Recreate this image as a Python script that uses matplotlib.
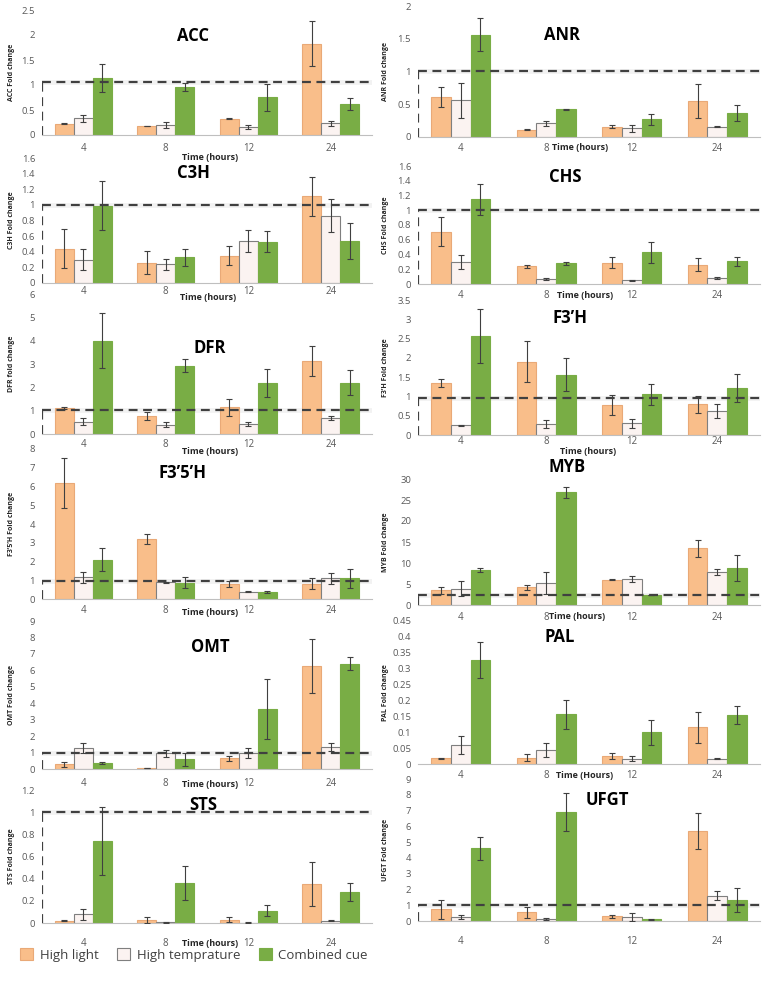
import numpy as np
import matplotlib.pyplot as plt

plt.rcParams['font.family'] = ['Open Sans', 'DejaVu Sans']

times = ['4', '8', '12', '24']
series_names = ['High light', 'High temprature', 'Combined cue']

# mean values, rows = High light, High temprature, Combined cue
acc_mean = [[0.22, 0.18, 0.32, 1.82], [0.33, 0.19, 0.15, 0.23], [1.13, 0.95, 0.75, 0.62]]
acc_err = [[0.01, 0.005, 0.01, 0.45], [0.07, 0.06, 0.04, 0.05], [0.28, 0.08, 0.27, 0.12]]
anr_mean = [[0.61, 0.11, 0.16, 0.55], [0.56, 0.21, 0.13, 0.16], [1.56, 0.42, 0.27, 0.37]]
anr_err = [[0.15, 0.01, 0.02, 0.26], [0.27, 0.04, 0.06, 0.01], [0.25, 0.01, 0.08, 0.12]]
c3h_mean = [[0.44, 0.26, 0.35, 1.11], [0.30, 0.24, 0.54, 0.86], [0.99, 0.33, 0.53, 0.54]]
c3h_err = [[0.25, 0.15, 0.12, 0.25], [0.13, 0.07, 0.14, 0.21], [0.31, 0.11, 0.13, 0.23]]
chs_mean = [[0.71, 0.24, 0.29, 0.26], [0.30, 0.07, 0.05, 0.08], [1.15, 0.28, 0.43, 0.31]]
chs_err = [[0.20, 0.02, 0.07, 0.09], [0.09, 0.01, 0.01, 0.01], [0.21, 0.02, 0.14, 0.06]]
dfr_mean = [[1.12, 0.78, 1.15, 3.13], [0.52, 0.40, 0.43, 0.68], [4.0, 2.93, 2.18, 2.2]]
dfr_err = [[0.05, 0.17, 0.37, 0.65], [0.15, 0.12, 0.10, 0.10], [1.17, 0.27, 0.60, 0.53]]
f3h_mean = [[1.35, 1.90, 0.78, 0.80], [0.25, 0.29, 0.30, 0.62], [2.56, 1.56, 1.05, 1.21]]
f3h_err = [[0.11, 0.53, 0.25, 0.22], [0.01, 0.10, 0.11, 0.18], [0.70, 0.43, 0.28, 0.36]]
f35h_mean = [[6.2, 3.2, 0.8, 0.82], [1.15, 0.9, 0.38, 1.1], [2.1, 0.88, 0.37, 1.1]]
f35h_err = [[1.33, 0.25, 0.15, 0.30], [0.28, 0.02, 0.03, 0.30], [0.60, 0.30, 0.07, 0.52]]
myb_mean = [[3.5, 4.2, 6.0, 13.5], [3.9, 5.3, 6.2, 7.9], [8.3, 26.8, 2.4, 8.8]]
myb_err = [[0.9, 0.6, 0.1, 2.0], [1.7, 2.6, 0.8, 0.7], [0.5, 1.3, 0.05, 3.1]]
omt_mean = [[0.3, 0.05, 0.65, 6.25], [1.3, 0.95, 0.95, 1.35], [0.35, 0.6, 3.65, 6.4]]
omt_err = [[0.15, 0.01, 0.15, 1.65], [0.3, 0.2, 0.3, 0.25], [0.05, 0.4, 1.8, 0.4]]
pal_mean = [[0.018, 0.02, 0.025, 0.115], [0.06, 0.043, 0.017, 0.017], [0.327, 0.156, 0.10, 0.153]]
pal_err = [[0.002, 0.01, 0.01, 0.048], [0.027, 0.022, 0.007, 0.001], [0.057, 0.045, 0.04, 0.028]]
sts_mean = [[0.02, 0.025, 0.03, 0.35], [0.08, 0.005, 0.003, 0.02], [0.74, 0.36, 0.11, 0.28]]
sts_err = [[0.005, 0.025, 0.02, 0.20], [0.05, 0.003, 0.002, 0.003], [0.31, 0.15, 0.05, 0.08]]
ufgt_mean = [[0.75, 0.55, 0.3, 5.7], [0.25, 0.12, 0.25, 1.6], [4.6, 6.9, 0.1, 1.35]]
ufgt_err = [[0.6, 0.35, 0.1, 1.15], [0.1, 0.05, 0.25, 0.3], [0.75, 1.2, 0.03, 0.75]]

genes = ['ACC', 'ANR', 'C3H', 'CHS', 'DFR', 'F3’H', 'F3’5’H', 'MYB', 'OMT', 'PAL', 'STS', 'UFGT']
means = [acc_mean, anr_mean, c3h_mean, chs_mean, dfr_mean, f3h_mean,
         f35h_mean, myb_mean, omt_mean, pal_mean, sts_mean, ufgt_mean]
errs = [acc_err, anr_err, c3h_err, chs_err, dfr_err, f3h_err,
        f35h_err, myb_err, omt_err, pal_err, sts_err, ufgt_err]
ylabels = ['ACC Fold change', 'ANR Fold change', 'C3H Fold change', 'CHS Fold change',
           'DFR fold change', 'F3’H Fold change', 'F3’5’H Fold change', 'MYB Fold change',
           'OMT Fold change', 'PAL Fold change', 'STS Fold change', 'UFGT Fold change']
xlabels = ['Time (hours)'] * 9 + ['Time (Hours)', 'Time (hours)', None]
ref_levels = [1.05, 1.0, 1.0, 1.0, 1.02, 0.97, 0.95, 2.5, 0.95, None, 1.0, 1.0]
y_max = [2.5, 2, 1.6, 1.6, 6, 3.5, 8, 30, 9, 0.45, 1.2, 9]
y_step = [0.5, 0.5, 0.2, 0.2, 1, 0.5, 1, 5, 1, 0.05, 0.2, 1]

# layout in pixels: (top of axis, zero line, title x, title y, tick row y, xlabel x, xlabel y)
layout = [
    (10, 135, 193, 36, 148, 210, 157),
    (6, 137, 562, 35, 148, 580, 148),
    (158, 283, 193, 173, 291, 208, 297),
    (166, 284, 565, 177, 295, 585, 296),
    (294, 434, 210, 348, 444, 210, 451),
    (300, 435, 570, 318, 441, 588, 451),
    (449, 599, 183, 473, 610, 210, 612),
    (479, 605, 567, 467, 617, 577, 616),
    (621, 769, 210, 647, 783, 210, 784),
    (621, 764, 560, 637, 775, 585, 775),
    (790, 923, 203, 805, 943, 210, 943),
    (779, 921, 607, 800, 941, 0, 0),
]

W, H = 777, 988
colors = ['#F9BE8A', '#FBF3F1', '#79AD45']
edges = ['#E9A977', '#7F7F7F', '#79AD45']
grey = '#595959'

fig = plt.figure(figsize=(W / 100, H / 100), dpi=100)
x = np.arange(len(times))
width = 0.23

handles = []
for i, gene in enumerate(genes):
    top, zero, tx, ty, ticky, lx, ly = layout[i]
    x0, x1 = (42, 372) if i % 2 == 0 else (418, 760)
    ax = fig.add_axes([x0 / W, 1 - zero / H, (x1 - x0) / W, (zero - top) / H])
    ax.patch.set_alpha(0)

    for k in range(3):
        b = ax.bar(x + (k - 1) * width, means[i][k], width, color=colors[k],
                   edgecolor=edges[k], linewidth=0.8, zorder=2)
        ax.errorbar(x + (k - 1) * width, means[i][k], yerr=errs[i][k], fmt='none',
                    ecolor='#404040', elinewidth=0.8, capsize=2, capthick=0.8, zorder=3)
        if i == 0:
            handles.append(b)

    ax.set_xlim(-0.5, 3.5)
    ax.set_ylim(0, y_max[i])
    ax.set_yticks(np.arange(0, y_max[i] + y_step[i] / 2, y_step[i]))
    ax.yaxis.set_major_formatter(plt.FuncFormatter(lambda v, p: f'{v:g}'))
    ax.set_xticks(x)
    ax.set_xticklabels(times)
    pad = max(ticky - zero - 4.5, 0) / 1.389
    ax.tick_params(axis='x', length=0, pad=pad, labelsize=7, labelcolor=grey)
    ax.tick_params(axis='y', length=0, pad=5, labelsize=6.8, labelcolor=grey)
    for s in ['top', 'right', 'left']:
        ax.spines[s].set_visible(False)
    ax.spines['bottom'].set_color('#BFBFBF')
    ax.spines['bottom'].set_linewidth(0.8)

    lev = ref_levels[i]
    if lev is not None:
        ax.axhline(lev, color='#E6E6E6', lw=3.5, alpha=0.5, zorder=1)
        ax.axhline(lev, color='#404040', lw=1.6, ls=(0, (4, 2.5)), zorder=4)
        ax.vlines(ax.get_xlim()[0], 0, lev, color='#404040', lw=1.6,
                  linestyles=(0, (4, 2.5)), zorder=4)

    fig.text(tx / W, 1 - ty / H, gene, ha='center', va='center',
             fontsize=12, fontweight='bold', color='black')

    if xlabels[i] is not None:
        ax.text((lx - x0) / (x1 - x0), (zero - ly) / (zero - top), xlabels[i],
                transform=ax.transAxes, ha='center', va='center',
                fontsize=6.5, fontweight='bold', color='#262626')

    ylx = 12 if i % 2 == 0 else 386
    ax.text((ylx - x0) / (x1 - x0), 0.5, ylabels[i], transform=ax.transAxes,
            rotation=90, ha='center', va='center', fontsize=5, fontweight='bold',
            color='#262626')

fig.legend(handles, series_names, loc='center left', bbox_to_anchor=(8 / W, 1 - 955 / H),
           ncol=3, frameon=False, fontsize=9.5, handlelength=1, handleheight=1,
           columnspacing=1.4, handletextpad=0.5, labelcolor='#404040')

fig.savefig('out.png', dpi=100)
